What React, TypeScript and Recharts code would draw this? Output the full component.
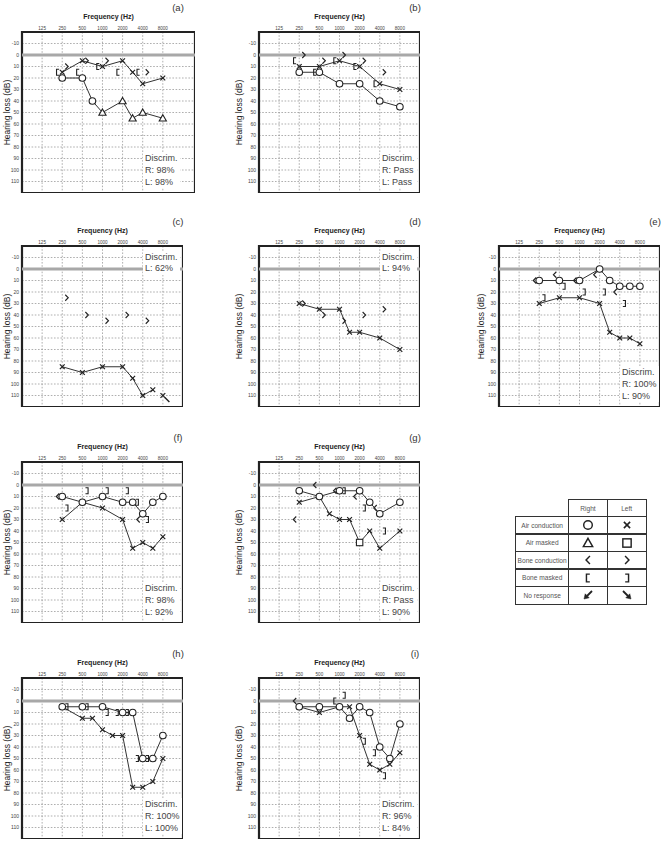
import React from 'react';
import { ScatterChart, Scatter, XAxis, YAxis, CartesianGrid, ReferenceLine, ReferenceArea } from 'recharts';

type Pt = [number, number, string?];

const FREQ_TICKS = [125, 250, 500, 1000, 2000, 4000, 8000];
const DB_TICKS = [-10, 0, 10, 20, 30, 40, 50, 60, 70, 80, 90, 100, 110];
// audiogram column of each test frequency (half-octaves sit midway)
const POS: Record<number, number> = {
  125: 0, 250: 1, 500: 2, 750: 2.5, 1000: 3, 1500: 3.5, 2000: 4, 3000: 4.5, 4000: 5, 6000: 5.5, 8000: 6,
};

// (a)
const A_RIGHT_AIR: Pt[] = [[250, 20], [500, 20], [750, 40], [1000, 50, 't'], [2000, 40, 't'], [3000, 55, 't'], [4000, 50, 't'], [8000, 55, 't']];
const A_LEFT_AIR: Pt[] = [[250, 15], [500, 5], [1000, 10], [2000, 5], [3000, 15], [4000, 25], [8000, 20]];
const A_RIGHT_BONE_M: Pt[] = [[250, 15], [500, 15], [1000, 10], [2000, 15], [4000, 15]];
const A_LEFT_BONE: Pt[] = [[250, 10], [500, 5], [1000, 5], [4000, 15]];
// (b)
const B_RIGHT_AIR: Pt[] = [[250, 15], [500, 15], [1000, 25], [2000, 25], [4000, 40], [8000, 45]];
const B_LEFT_AIR: Pt[] = [[250, 10], [500, 10], [1000, 5], [2000, 10], [4000, 25], [8000, 30]];
const B_RIGHT_BONE_M: Pt[] = [[250, 5], [500, 15], [1000, 5], [2000, 10], [4000, 25]];
const B_LEFT_BONE: Pt[] = [[250, 0], [500, 5], [1000, 0], [2000, 5], [4000, 15]];
// (c)
const C_LEFT_AIR: Pt[] = [[250, 85], [500, 90], [1000, 85], [2000, 85], [3000, 95], [4000, 110], [6000, 105]];
const C_LEFT_NR: Pt[] = [[8000, 110]];
const C_LEFT_BONE: Pt[] = [[250, 25], [500, 40], [1000, 45], [2000, 40], [4000, 45]];
// (d)
const D_LEFT_AIR: Pt[] = [[250, 30], [500, 35], [1000, 35], [1500, 55], [2000, 55], [4000, 60], [8000, 70]];
const D_LEFT_BONE: Pt[] = [[250, 30], [500, 40], [1000, 45], [2000, 40], [4000, 35]];
// (e)
const E_RIGHT_AIR: Pt[] = [[250, 10], [500, 10], [1000, 10], [2000, 0], [3000, 10], [4000, 15], [6000, 15], [8000, 15]];
const E_LEFT_AIR: Pt[] = [[250, 30], [500, 25], [1000, 25], [2000, 30], [3000, 55], [4000, 60], [6000, 60], [8000, 65]];
const E_RIGHT_BONE: Pt[] = [[250, 10], [500, 5], [1000, 10], [2000, 5], [4000, 20]];
const E_LEFT_BONE_M: Pt[] = [[250, 25], [500, 15], [1000, 20], [2000, 20], [4000, 30]];
// (f)
const F_RIGHT_AIR: Pt[] = [[250, 10], [500, 15], [1000, 10], [2000, 15], [3000, 15], [4000, 25], [6000, 15], [8000, 10]];
const F_LEFT_AIR: Pt[] = [[250, 30], [500, 15], [1000, 20], [2000, 30], [3000, 55], [4000, 50], [6000, 55], [8000, 45]];
const F_RIGHT_BONE: Pt[] = [[250, 10], [4000, 30]];
const F_LEFT_BONE_M: Pt[] = [[250, 20], [500, 5], [1000, 5], [2000, 5], [3000, 15], [4000, 30]];
// (g)
const G_RIGHT_AIR: Pt[] = [[250, 5], [500, 10], [1000, 5], [2000, 5], [3000, 15], [4000, 25], [8000, 15]];
const G_LEFT_AIR: Pt[] = [[250, 15], [500, 10], [750, 25], [1000, 30], [1500, 30], [2000, 50, 's'], [3000, 40], [4000, 55], [8000, 40]];
const G_RIGHT_BONE: Pt[] = [[250, 30], [500, 0], [1000, 5], [2000, 10], [4000, 20]];
const G_LEFT_BONE_M: Pt[] = [[1000, 5], [2000, 20], [4000, 40]];
// (h)
const H_RIGHT_AIR: Pt[] = [[250, 5], [500, 5], [1000, 5], [2000, 10], [3000, 10], [4000, 50], [6000, 50], [8000, 30]];
const H_LEFT_AIR: Pt[] = [[250, 5], [500, 15], [750, 15], [1000, 25], [1500, 30], [2000, 30], [3000, 75], [4000, 75], [6000, 70], [8000, 50]];
const H_LEFT_BONE_M: Pt[] = [[250, 5], [500, 5], [1000, 10], [1500, 10], [2000, 10], [3000, 50], [4000, 50]];
// (i)
const I_RIGHT_AIR: Pt[] = [[250, 5], [500, 5], [1000, 5], [1500, 15], [2000, 5], [3000, 10], [4000, 40], [6000, 50], [8000, 20]];
const I_LEFT_AIR: Pt[] = [[250, 5], [500, 10], [1000, 5], [1500, 5], [2000, 30], [3000, 55], [4000, 60], [6000, 55], [8000, 45]];
const I_RIGHT_BONE: Pt[] = [[250, 0]];
const I_RIGHT_BONE_M: Pt[] = [[1000, 0]];
const I_LEFT_BONE_M: Pt[] = [[1000, -5], [2000, 35], [3000, 45], [4000, 65]];

const LEGEND_ROWS = ['Air conduction', 'Air masked', 'Bone conduction', 'Bone masked', 'No response'];
const LEGEND_RIGHT = ['o', 't', '<', '[', 'nr'];
const LEGEND_LEFT = ['x', 's', '>', ']', 'nl'];

const INK = '#222';
const FONT = '"Liberation Sans", Arial, sans-serif';

function Sym({ s, cx, cy, off = 4.5, k = 1 }: { s: string; cx: number; cy: number; off?: number; k?: number }) {
  const sw = 1.1 * k;
  switch (s) {
    case 'o':
      return <circle cx={cx} cy={cy} r={3.3 * k} fill="#fff" stroke={INK} strokeWidth={sw} />;
    case 't':
      return <path d={`M${cx},${cy - 3.6 * k} L${cx + 3.6 * k},${cy + 2.8 * k} L${cx - 3.6 * k},${cy + 2.8 * k} Z`} fill="#fff" stroke={INK} strokeWidth={sw} />;
    case 's':
      return <rect x={cx - 3.2 * k} y={cy - 3.2 * k} width={6.4 * k} height={6.4 * k} fill="#fff" stroke={INK} strokeWidth={sw} />;
    case 'x':
    case 'xn': {
      const d = 2.4 * k;
      return (
        <g stroke={INK} strokeWidth={1.2 * k} fill="none">
          <path d={`M${cx - d},${cy - d} L${cx + d},${cy + d} M${cx - d},${cy + d} L${cx + d},${cy - d}`} />
          {s === 'xn' && <path d={`M${cx + 2},${cy + 2} L${cx + 6.5},${cy + 6.5}`} strokeWidth={1.4} />}
        </g>
      );
    }
    case '<': {
      const x = cx - off;
      return <path d={`M${x + 1.5 * k},${cy - 3 * k} L${x - 1.5 * k},${cy} L${x + 1.5 * k},${cy + 3 * k}`} fill="none" stroke={INK} strokeWidth={sw} />;
    }
    case '>': {
      const x = cx + off;
      return <path d={`M${x - 1.5 * k},${cy - 3 * k} L${x + 1.5 * k},${cy} L${x - 1.5 * k},${cy + 3 * k}`} fill="none" stroke={INK} strokeWidth={sw} />;
    }
    case '[': {
      const x = cx - off;
      return <path d={`M${x + 1.4 * k},${cy - 3 * k} L${x - 1.2 * k},${cy - 3 * k} L${x - 1.2 * k},${cy + 3 * k} L${x + 1.4 * k},${cy + 3 * k}`} fill="none" stroke={INK} strokeWidth={sw} />;
    }
    case ']': {
      const x = cx + off;
      return <path d={`M${x - 1.4 * k},${cy - 3 * k} L${x + 1.2 * k},${cy - 3 * k} L${x + 1.2 * k},${cy + 3 * k} L${x - 1.4 * k},${cy + 3 * k}`} fill="none" stroke={INK} strokeWidth={sw} />;
    }
    case 'nr':
      return (
        <g fill={INK} stroke={INK}>
          <path d={`M${cx + 4},${cy - 4} L${cx - 1},${cy + 1}`} strokeWidth={1.8} />
          <path d={`M${cx - 4},${cy + 4} L${cx - 2.8},${cy - 1.2} L${cx + 1.2},${cy + 2.8} Z`} strokeWidth={0.5} />
        </g>
      );
    case 'nl':
      return (
        <g fill={INK} stroke={INK}>
          <path d={`M${cx - 4},${cy - 4} L${cx + 1},${cy + 1}`} strokeWidth={1.8} />
          <path d={`M${cx + 4},${cy + 4} L${cx + 2.8},${cy - 1.2} L${cx - 1.2},${cy + 2.8} Z`} strokeWidth={0.5} />
        </g>
      );
    default:
      return <g />;
  }
}

type Series = { pts: Pt[]; sym: string; line?: boolean };
type PanelDef = {
  tag: string; left: number; top: number; yw: number; wide?: boolean;
  series: Series[]; discrim: string[]; discrimTop?: boolean;
};

const PANELS: PanelDef[] = [
  { tag: '(a)', left: 22, top: 32, yw: 30, wide: true, discrim: ['Discrim.', 'R: 98%', 'L: 98%'], series: [
    { pts: A_RIGHT_AIR, sym: 'o', line: true }, { pts: A_LEFT_AIR, sym: 'x', line: true },
    { pts: A_RIGHT_BONE_M, sym: '[' }, { pts: A_LEFT_BONE, sym: '>' }] },
  { tag: '(b)', left: 259, top: 32, yw: 40, discrim: ['Discrim.', 'R: Pass', 'L: Pass'], series: [
    { pts: B_RIGHT_AIR, sym: 'o', line: true }, { pts: B_LEFT_AIR, sym: 'x', line: true },
    { pts: B_RIGHT_BONE_M, sym: '[' }, { pts: B_LEFT_BONE, sym: '>' }] },
  { tag: '(c)', left: 22, top: 246, yw: 30, discrimTop: true, discrim: ['Discrim.', 'L: 62%'], series: [
    { pts: C_LEFT_AIR, sym: 'x', line: true }, { pts: C_LEFT_NR, sym: 'xn' }, { pts: C_LEFT_BONE, sym: '>' }] },
  { tag: '(d)', left: 259, top: 246, yw: 40, discrimTop: true, discrim: ['Discrim.', 'L: 94%'], series: [
    { pts: D_LEFT_AIR, sym: 'x', line: true }, { pts: D_LEFT_BONE, sym: '>' }] },
  { tag: '(e)', left: 499, top: 246, yw: 37, discrim: ['Discrim.', 'R: 100%', 'L: 90%'], series: [
    { pts: E_RIGHT_AIR, sym: 'o', line: true }, { pts: E_LEFT_AIR, sym: 'x', line: true },
    { pts: E_RIGHT_BONE, sym: '<' }, { pts: E_LEFT_BONE_M, sym: ']' }] },
  { tag: '(f)', left: 22, top: 462, yw: 30, discrim: ['Discrim.', 'R: 98%', 'L: 92%'], series: [
    { pts: F_LEFT_AIR, sym: 'x', line: true }, { pts: F_RIGHT_AIR, sym: 'o', line: true },
    { pts: F_RIGHT_BONE, sym: '<' }, { pts: F_LEFT_BONE_M, sym: ']' }] },
  { tag: '(g)', left: 259, top: 462, yw: 40, discrim: ['Discrim.', 'R: Pass', 'L: 90%'], series: [
    { pts: G_LEFT_AIR, sym: 'x', line: true }, { pts: G_RIGHT_AIR, sym: 'o', line: true },
    { pts: G_RIGHT_BONE, sym: '<' }, { pts: G_LEFT_BONE_M, sym: ']' }] },
  { tag: '(h)', left: 22, top: 678, yw: 30, discrim: ['Discrim.', 'R: 100%', 'L: 100%'], series: [
    { pts: H_LEFT_AIR, sym: 'x', line: true }, { pts: H_RIGHT_AIR, sym: 'o', line: true },
    { pts: H_LEFT_BONE_M, sym: ']' }] },
  { tag: '(i)', left: 259, top: 678, yw: 40, discrim: ['Discrim.', 'R: 96%', 'L: 84%'], series: [
    { pts: I_LEFT_AIR, sym: 'x', line: true }, { pts: I_RIGHT_AIR, sym: 'o', line: true },
    { pts: I_RIGHT_BONE, sym: '<' }, { pts: I_RIGHT_BONE_M, sym: '[' }, { pts: I_LEFT_BONE_M, sym: ']' }] },
];

const XH = 30;
const BOX = 161;

function Panel({ p }: { p: PanelDef }) {
  const w = p.wide ? 173 : BOX;
  const xmax = p.wide ? 7.6 : 7;
  const bottom = p.top + BOX;
  return (
    <>
      <div style={{ position: 'absolute', left: p.left - p.yw, top: p.top - XH }}>
        <ScatterChart width={p.yw + w} height={XH + BOX} margin={{ top: 0, right: 0, bottom: 0, left: 0 }}>
          <CartesianGrid stroke="#8c8c8c" strokeDasharray="1.6 1.6" strokeWidth={0.7} />
          <XAxis
            type="number" dataKey="x" orientation="top" domain={[-1, xmax]} ticks={[0, 1, 2, 3, 4, 5, 6]}
            tickFormatter={(v: number) => String(FREQ_TICKS[v])} interval={0} height={XH}
            axisLine={false} tickLine={false} tickSize={0} tickMargin={2}
            tick={{ fontSize: 4.6, fill: '#444', fontFamily: FONT }}
            label={{ value: 'Frequency (Hz)', position: 'insideTop', offset: 12, style: { fontSize: 7, fontWeight: 700, fill: '#222', fontFamily: FONT } }}
          />
          <YAxis
            type="number" dataKey="y" reversed domain={[-20, 120]} ticks={DB_TICKS} interval={0} width={p.yw}
            axisLine={false} tickLine={false} tickSize={0} tickMargin={3}
            tick={{ fontSize: 5, fill: '#444', fontFamily: FONT }}
            label={{ value: 'Hearing loss (dB)', angle: -90, position: 'center', style: { fontSize: 8.5, fill: '#222', fontFamily: FONT } }}
          />
          <ReferenceLine y={0} stroke="#a8a8a8" strokeWidth={3} />
          {p.series.map((s, i) => (
            <Scatter
              key={i}
              data={s.pts.map(([f, y, sym]) => ({ x: POS[f], y, s: sym || s.sym }))}
              isAnimationActive={false}
              line={s.line ? { stroke: '#333', strokeWidth: 1 } : false}
              lineType="joint"
              shape={(props: any) => <Sym s={props.payload.s} cx={props.cx} cy={props.cy} />}
            />
          ))}
          <ReferenceArea x1={-1} x2={xmax} y1={-20} y2={120} fill="none" stroke={INK} strokeWidth={2.2} fillOpacity={0} />
        </ScatterChart>
      </div>
      <div style={{
        position: 'absolute', left: p.left + 121, top: p.discrimTop ? p.top + 5.5 : bottom - 41,
        fontSize: 9, lineHeight: p.discrimTop ? '11.5px' : '12px', color: '#444', background: '#fff', padding: '0 2px',
        fontFamily: FONT, whiteSpace: 'nowrap',
      }}>
        {p.discrim.map((t) => <div key={t}>{t}</div>)}
      </div>
      <div style={{ position: 'absolute', left: p.left + 146, top: p.top - 30, width: 20, textAlign: 'center', fontSize: 9.5, color: '#333', fontFamily: FONT }}>
        {p.tag}
      </div>
    </>
  );
}

function LegendTable() {
  const cell: React.CSSProperties = { border: '1.3px solid #333', display: 'flex', alignItems: 'center', justifyContent: 'center', boxSizing: 'border-box' };
  return (
    <div style={{ position: 'absolute', left: 515, top: 499, fontFamily: FONT, fontSize: 6.6, color: '#555' }}>
      <div style={{ display: 'flex', marginLeft: 53 }}>
        <div style={{ ...cell, width: 40, height: 18 }}>Right</div>
        <div style={{ ...cell, width: 40, height: 18, marginLeft: -1.3 }}>Left</div>
      </div>
      {LEGEND_ROWS.map((r, i) => (
        <div key={r} style={{ display: 'flex', marginTop: -1.3 }}>
          <div style={{ ...cell, width: 54.3, height: 18.8, whiteSpace: 'nowrap' }}>{r}</div>
          <div style={{ ...cell, width: 40, height: 18.8, marginLeft: -1.3 }}>
            <svg width={16} height={14}><Sym s={LEGEND_RIGHT[i]} cx={8} cy={7} off={0} k={1.3} /></svg>
          </div>
          <div style={{ ...cell, width: 40, height: 18.8, marginLeft: -1.3 }}>
            <svg width={16} height={14}><Sym s={LEGEND_LEFT[i]} cx={8} cy={7} off={0} k={1.3} /></svg>
          </div>
        </div>
      ))}
    </div>
  );
}

export default function App() {
  return (
    <div style={{ position: 'absolute', left: 0, top: 0, width: 662, height: 841, background: '#fff', overflow: 'hidden' }}>
      {PANELS.map((p) => <Panel key={p.tag} p={p} />)}
      <LegendTable />
    </div>
  );
}
